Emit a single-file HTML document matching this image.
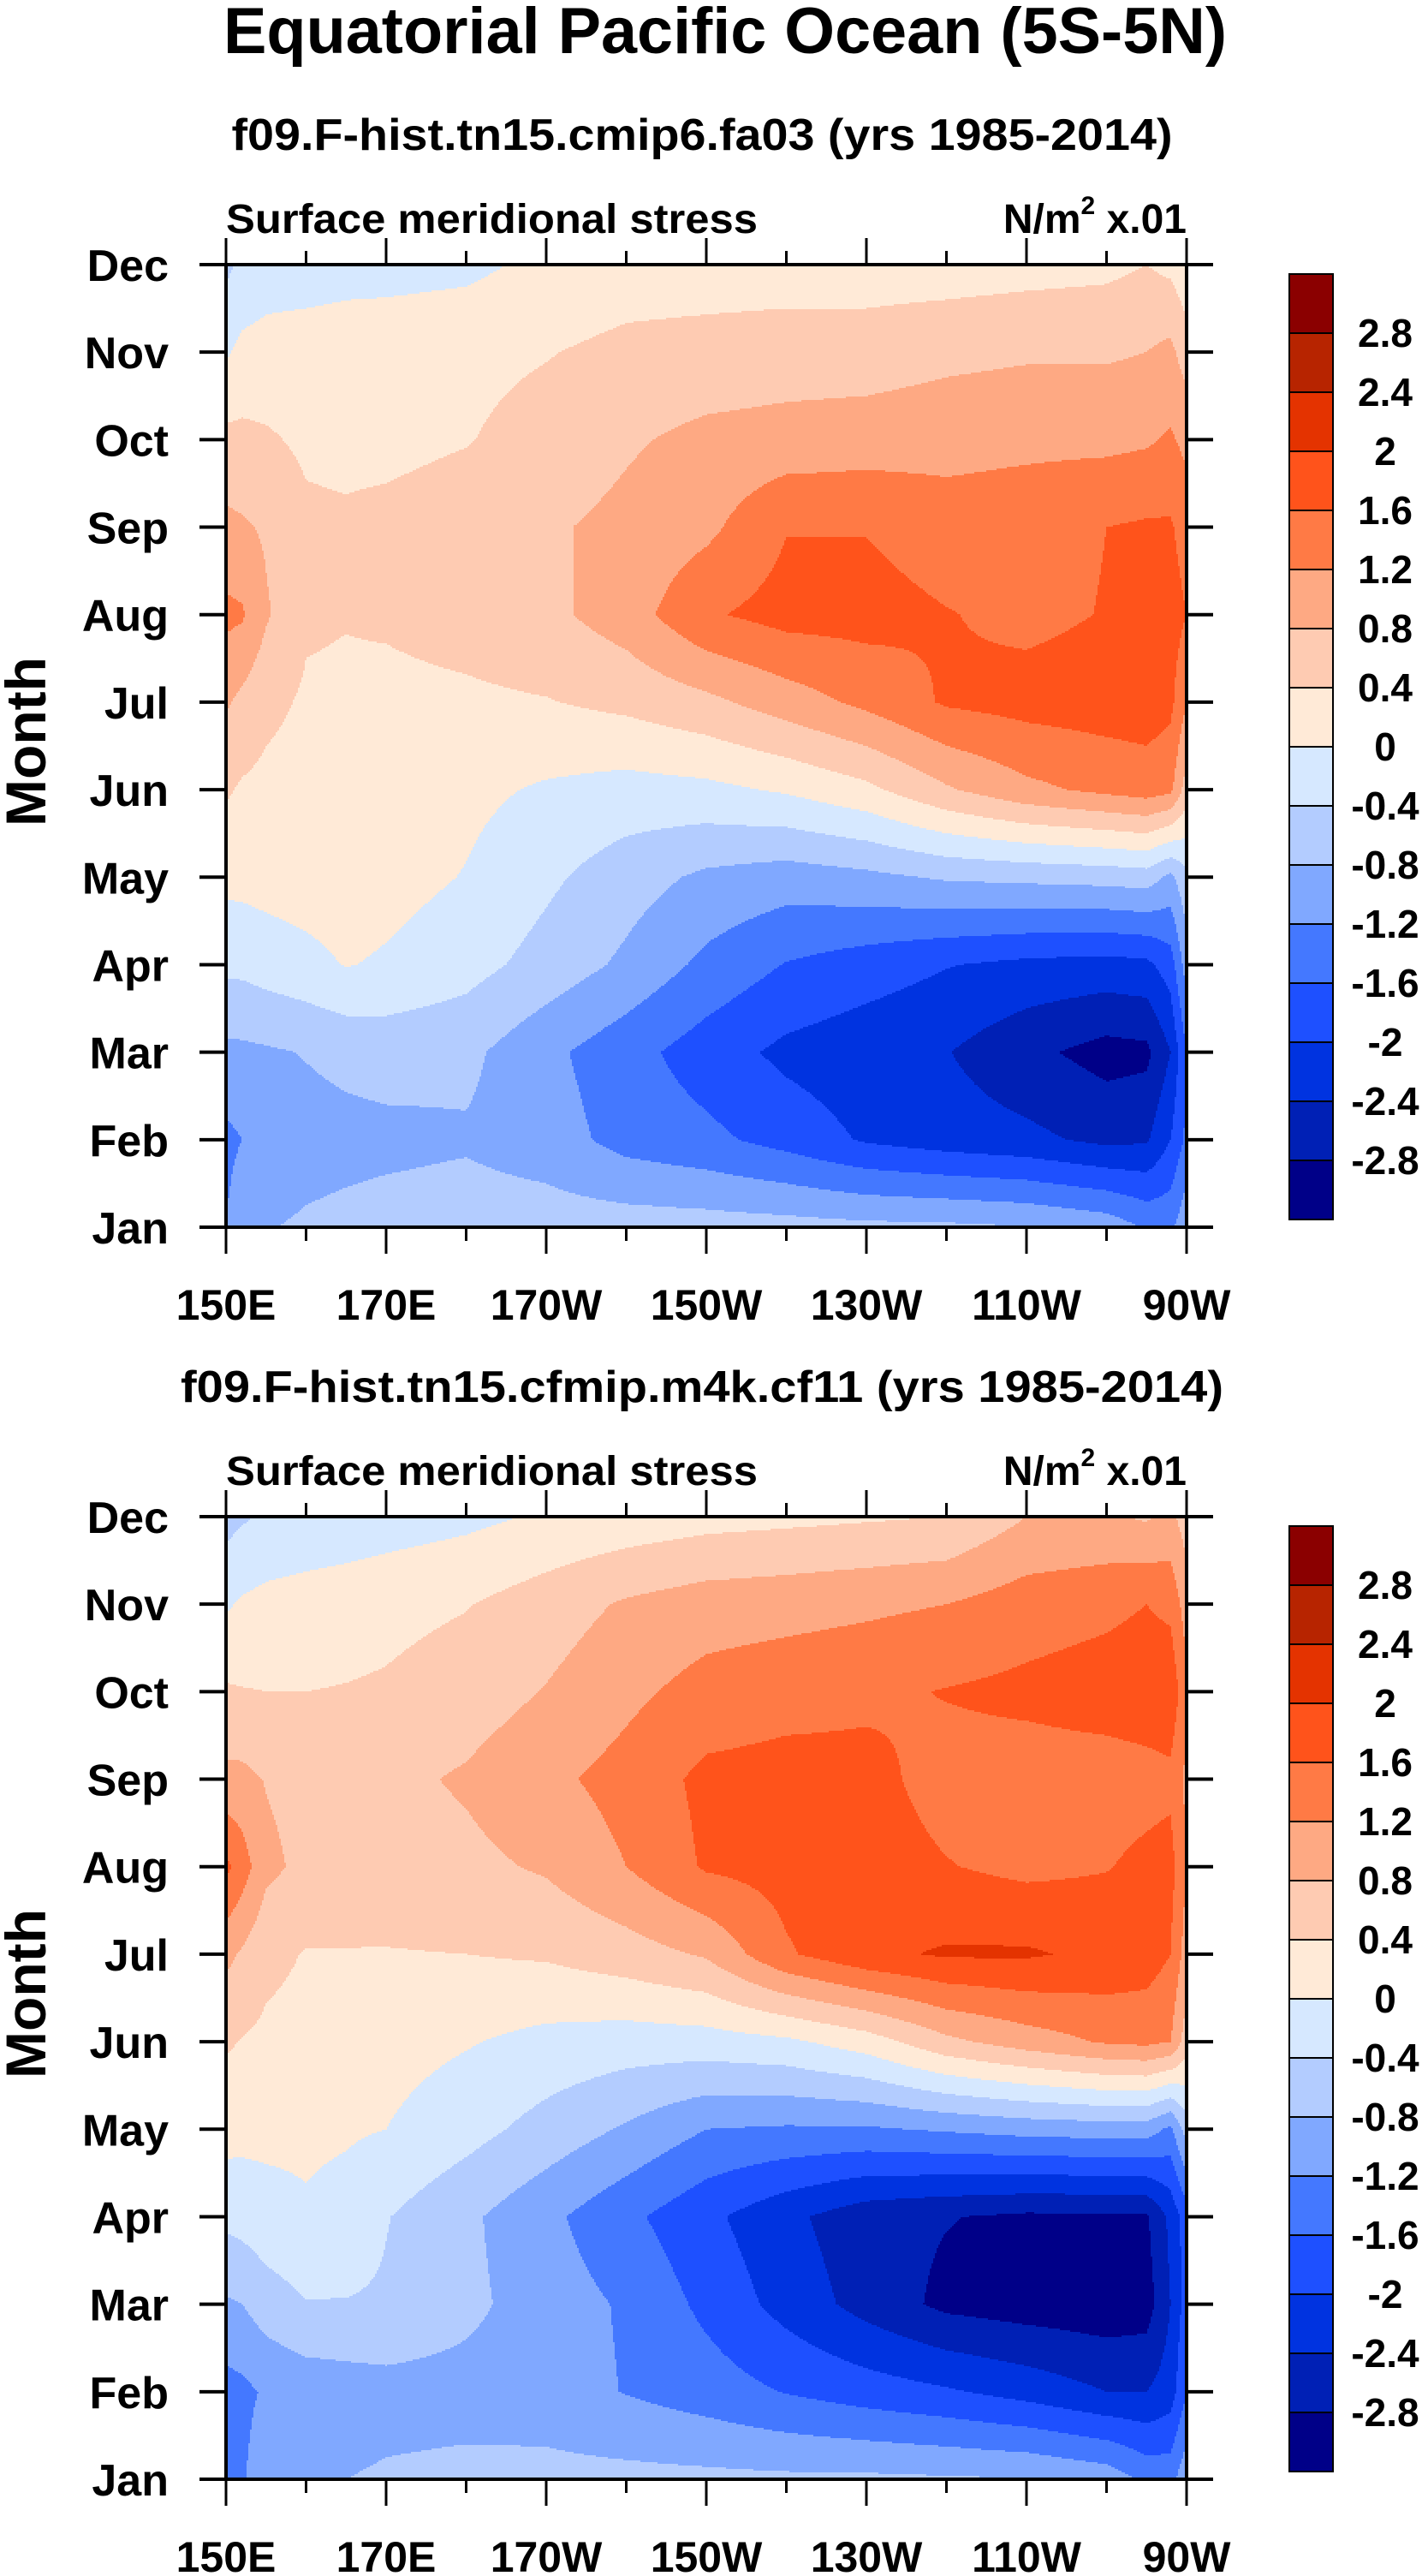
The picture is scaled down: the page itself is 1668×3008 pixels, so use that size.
<!DOCTYPE html>
<html><head><meta charset="utf-8"><style>
html,body{margin:0;padding:0;background:#fff;}
svg{display:block;font-family:"Liberation Sans",Arial,sans-serif;font-weight:bold;}
</style></head><body>
<svg id="chart" width="1668" height="3008" viewBox="0 0 1668 3008" xmlns="http://www.w3.org/2000/svg">
<rect width="1668" height="3008" fill="#fff"/>
<text x="847" y="62" font-size="76" text-anchor="middle" textLength="1172" lengthAdjust="spacingAndGlyphs">Equatorial Pacific Ocean (5S-5N)</text>
<g id="panels"></g>
</svg>
<script>
// ---- data ----
const months = ["Jan","Feb","Mar","Apr","May","Jun","Jul","Aug","Sep","Oct","Nov","Dec"];
const lons = [150,152,155,160,165,170,180,190,200,210,220,230,240,250,260,265,268,270];
const xTickLabels = ["150E","170E","170W","150W","130W","110W","90W"];
const xTickLons = [150,170,190,210,230,250,270];
const levels = [-2.8,-2.4,-2,-1.6,-1.2,-0.8,-0.4,0,0.4,0.8,1.2,1.6,2,2.4,2.8];
const levelLabels = ["2.8","2.4","2","1.6","1.2","0.8","0.4","0","-0.4","-0.8","-1.2","-1.6","-2","-2.4","-2.8"];
const colors = ["#000088","#0020b5","#0033e0","#1e50ff","#4478ff","#80a8ff","#b3ccff","#d6e8ff","#ffead7","#fecbb2","#fea983","#ff7a45","#ff531b","#e43300","#b72400","#8b0000"];
const titleA = "f09.F-hist.tn15.cmip6.fa03 (yrs 1985-2014)";
const titleB = "f09.F-hist.tn15.cfmip.m4k.cf11 (yrs 1985-2014)";
// rows Jan..Dec, columns = lons
const fieldA = [
[-1.2,-0.95,-0.82,-0.75,-0.7,-0.65,-0.6,-0.6,-0.6,-0.62,-0.65,-0.7,-0.72,-0.78,-0.95,-1.25,-1.3,-0.9],
[-1.3,-1.2,-1.05,-0.95,-0.92,-0.9,-0.85,-1.0,-1.35,-1.5,-1.75,-2.05,-2.2,-2.3,-2.5,-2.45,-2.0,-1.5],
[-0.9,-0.88,-0.85,-0.78,-0.7,-0.65,-0.7,-1.1,-1.45,-1.8,-2.1,-2.25,-2.38,-2.7,-2.95,-2.9,-2.4,-1.6],
[-0.3,-0.3,-0.22,-0.12,0.02,-0.05,-0.25,-0.55,-0.88,-1.3,-1.62,-1.8,-1.98,-2.1,-2.15,-2.1,-1.8,-1.0],
[0.1,0.12,0.15,0.2,0.22,0.15,-0.02,-0.32,-0.62,-0.88,-1.0,-0.9,-0.75,-0.7,-0.65,-0.6,-0.9,-0.5],
[0.45,0.35,0.3,0.25,0.22,0.2,0.1,-0.05,-0.15,-0.1,0.05,0.3,0.75,1.1,1.3,1.4,1.3,0.6],
[0.85,0.7,0.5,0.35,0.33,0.3,0.33,0.38,0.5,0.7,1.0,1.3,1.65,1.75,1.8,1.8,1.7,1.2],
[1.3,1.25,0.85,0.45,0.42,0.45,0.55,0.7,1.0,1.55,1.75,1.75,1.62,1.5,1.62,1.75,1.8,1.6],
[0.9,0.85,0.75,0.48,0.46,0.5,0.6,0.75,0.9,1.1,1.58,1.58,1.4,1.45,1.6,1.65,1.65,1.4],
[0.5,0.5,0.45,0.33,0.3,0.3,0.38,0.55,0.75,0.9,0.95,1.0,1.05,1.1,1.1,1.15,1.25,1.1],
[-0.05,0.1,0.15,0.2,0.22,0.25,0.3,0.38,0.5,0.55,0.6,0.6,0.7,0.75,0.75,0.8,0.9,0.6],
[-0.5,-0.3,-0.2,-0.2,-0.15,-0.15,-0.1,0.1,0.2,0.2,0.2,0.2,0.2,0.25,0.3,0.4,0.3,0.1]
];
const fieldB = [
[-1.3,-1.25,-0.95,-0.85,-0.8,-0.75,-0.7,-0.68,-0.68,-0.7,-0.72,-0.72,-0.75,-0.78,-0.95,-1.3,-1.35,-0.9],
[-1.35,-1.3,-1.15,-1.05,-1.0,-0.95,-0.95,-1.0,-1.22,-1.4,-1.62,-1.8,-1.95,-2.15,-2.4,-2.4,-2.2,-1.6],
[-0.85,-0.8,-0.6,-0.42,-0.42,-0.45,-0.7,-1.0,-1.25,-1.7,-2.15,-2.55,-2.9,-3.0,-3.05,-3.0,-2.4,-1.8],
[-0.3,-0.25,-0.15,-0.05,-0.15,-0.38,-0.72,-1.1,-1.5,-1.9,-2.3,-2.65,-2.78,-2.88,-2.88,-2.85,-2.3,-1.8],
[0.15,0.12,0.1,0.08,0.05,0.0,-0.25,-0.55,-0.85,-1.2,-1.25,-1.25,-1.15,-1.05,-1.0,-1.0,-1.3,-0.6],
[0.45,0.38,0.32,0.28,0.22,0.15,0.03,-0.12,-0.2,-0.18,-0.08,0.2,0.7,1.0,1.25,1.3,1.2,0.6],
[0.9,0.75,0.5,0.38,0.38,0.38,0.4,0.45,0.62,0.85,1.55,1.9,2.05,2.05,1.9,1.8,1.6,1.0],
[1.7,1.4,0.9,0.7,0.65,0.62,0.7,0.85,1.2,1.65,1.75,1.78,1.62,1.5,1.58,1.7,1.75,1.2],
[0.9,0.9,0.78,0.65,0.65,0.7,0.85,1.1,1.35,1.7,1.75,1.72,1.45,1.4,1.4,1.45,1.5,1.1],
[0.45,0.42,0.4,0.4,0.42,0.45,0.6,0.82,1.1,1.35,1.45,1.52,1.62,1.7,1.8,1.85,1.9,1.3],
[-0.05,0.05,0.12,0.18,0.22,0.28,0.38,0.6,0.85,1.0,1.05,1.12,1.2,1.4,1.5,1.6,1.5,1.0],
[-0.55,-0.45,-0.35,-0.3,-0.25,-0.2,-0.1,0.05,0.15,0.25,0.3,0.35,0.4,0.8,0.85,0.75,0.9,0.6]
];

// ---- layout ----
const NS = "http://www.w3.org/2000/svg";
const PL = 264, PR = 1386, PW = PR - PL, PH = 1124;
function mk(tag, attrs, parent){ const e=document.createElementNS(NS,tag); for(const k in attrs) e.setAttribute(k,attrs[k]); parent.appendChild(e); return e; }
function colorFor(v){ let i=0; while(i<levels.length && v>=levels[i]) i++; return colors[i]; }
function sample(field, lon, m){
  let j=0; while(j<lons.length-2 && lon>lons[j+1]) j++;
  const tx=Math.max(0,Math.min(1,(lon-lons[j])/(lons[j+1]-lons[j])));
  let i=Math.min(10,Math.floor(m)); const ty=Math.max(0,Math.min(1,m-i));
  const a=field[i][j]*(1-tx)+field[i][j+1]*tx;
  const b=field[i+1][j]*(1-tx)+field[i+1][j+1]*tx;
  return a*(1-ty)+b*ty;
}
const root=document.getElementById('panels');

function drawPanel(field, subtitle, off, subX, subLen){
  const top=309+off, bot=top+PH;
  const xS = lon => PL + (lon-150)/120*PW;
  const yS = m => bot - m*(PH/11);
  const g=mk('g',{},root);
  
  
  const st=mk('text',{x:subX,y:175+off,'font-size':52,'text-anchor':'middle',textLength:subLen,lengthAdjust:'spacingAndGlyphs'},g);
  st.textContent=subtitle;
  
  
  const lt=mk('text',{x:PL,y:272+off,'font-size':48,textLength:621,lengthAdjust:'spacingAndGlyphs'},g);
  lt.textContent="Surface meridional stress";
  
  
  const ut=mk('text',{x:PR,y:272+off,'font-size':48,'text-anchor':'end'},g);
  
  
  ut.innerHTML='N/m<tspan font-size="30" dy="-22">2</tspan><tspan dy="22"> x.01</tspan>';
  const hm=mk('g',{'shape-rendering':'crispEdges'},g);
  
  
  const step=2;
  for(let y=top; y<bot; y+=step){
    const m=(bot-(y+step/2))/(PH/11);
    let runStart=PL, runCol=null;
    for(let x=PL; x<=PR; x+=step){
      let c=null;
      if(x<PR){ const lon=150+(x+step/2-PL)/PW*120; c=colorFor(sample(field,lon,m)); }
      if(c!==runCol){
        if(runCol!==null){
          const r=mk('rect',{x:runStart,y:y,width:x-runStart,height:step,fill:runCol},hm);
          
          
        }
        runStart=x; runCol=c;
      }
    }
  }
  const fr=mk('rect',{x:PL,y:top,width:PW,height:PH,fill:'none',stroke:'#000','stroke-width':4},g);
  
  
  for(let lon=150; lon<=270; lon+=10){
    const major=(lon-150)%20===0, L=major?31:16, x=xS(lon);
    const t1=mk('line',{x1:x,x2:x,y1:bot,y2:bot+L,stroke:'#000','stroke-width':3},g);
    
    
    const t2=mk('line',{x1:x,x2:x,y1:top,y2:top-L,stroke:'#000','stroke-width':3},g);
    
    
  }
  xTickLons.forEach((lon,i)=>{
    const t=mk('text',{x:xS(lon),y:bot+108,'font-size':50,'text-anchor':'middle'},g);
    t.textContent=xTickLabels[i];
    
    
  });
  months.forEach((mn,i)=>{
    const y=yS(i);
    const a=mk('line',{x1:PL-31,x2:PL,y1:y,y2:y,stroke:'#000','stroke-width':4},g);
    
    
    const b=mk('line',{x1:PR,x2:PR+31,y1:y,y2:y,stroke:'#000','stroke-width':4},g);
    
    
    const t=mk('text',{x:197,y:y+19,'font-size':52,'text-anchor':'end'},g);
    t.textContent=mn;
    
    
  });
  const yl=mk('text',{x:0,y:0,'font-size':66,'text-anchor':'middle',transform:`translate(53,${866+off}) rotate(-90)`},g);
  yl.textContent="Month";
  
  
  const cb=mk('g',{},g);
  
  
  const cTop=320+off, bh=69;
  for(let k=0;k<16;k++){
    const r=mk('rect',{x:1506,y:cTop+k*bh,width:51,height:bh,fill:colors[15-k],stroke:'#000','stroke-width':2},cb);
    
    
  }
  levelLabels.forEach((lb,k)=>{
    const t=mk('text',{x:1618,y:cTop+(k+1)*bh+16,'font-size':46,'text-anchor':'middle'},cb);
    t.textContent=lb;
    
    
  });
}
drawPanel(fieldA, titleA, 0, 820, 1099);
drawPanel(fieldB, titleB, 1462, 820, 1218);
</script>
</body></html>
